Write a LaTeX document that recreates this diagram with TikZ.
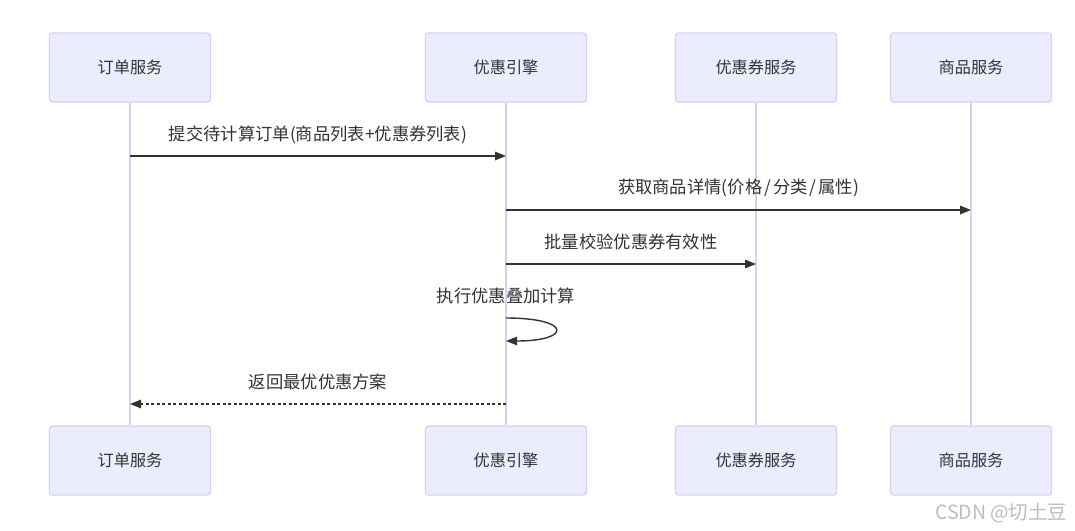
\documentclass[tikz,border=0pt]{standalone}
\usepackage{fontspec}
\setmainfont{Noto Sans CJK SC}
\usepackage{xcolor}
\usetikzlibrary{arrows.meta,positioning}

\definecolor{actorfill}{HTML}{ECECFF}
\definecolor{actorline}{HTML}{DACEF3}
\definecolor{textgray}{HTML}{333333}
\definecolor{markgray}{HTML}{BDBDBD}

\newcommand{\actorfont}{\fontsize{16.2}{19}\selectfont}
\newcommand{\msgfont}{\fontsize{17.3}{20}\selectfont}

\begin{document}
\begin{tikzpicture}[
  x=1pt, y=-1pt,
  >={Triangle[length=11pt,width=8.5pt]},
  actor/.style={draw=actorline, line width=1.2pt, fill=actorfill, rounded corners=3pt,
    minimum width=161pt, minimum height=69pt, font=\actorfont, text=textgray},
  lifeline/.style={draw=actorline, line width=1.8pt},
  msg/.style={draw=textgray, line width=1.4pt, ->},
  msglabel/.style={font=\msgfont, text=textgray},
]
\useasboundingbox[fill=white] (0,0) rectangle (1075,530);

% Participants, top and bottom
\foreach \i/\x/\lab in {1/130/订单服务, 2/506/优惠引擎, 3/756/优惠券服务, 4/971/商品服务} {
  \node[actor] (t\i) at (\x, 67.5) {\lab};
  \node[actor] (b\i) at (\x, 460.5) {\lab};
}

% Lifelines
\foreach \i in {1,...,4} {
  \draw[lifeline] (t\i) -- (b\i);
}

% Messages
\draw[msg] (t1 |- 0,156) -- (t2 |- 0,156)
  node[msglabel, midway, yshift=21pt] {提交待计算订单(商品列表+优惠券列表)};
\draw[msg] (t2 |- 0,210) -- (t4 |- 0,210)
  node[msglabel, midway, yshift=22pt] {获取商品详情(价格\kern2pt/\kern2pt分类\kern2pt/\kern2pt属性)};
\draw[msg] (t2 |- 0,264) -- (t3 |- 0,264)
  node[msglabel, midway, yshift=22pt] {批量校验优惠券有效性};

% Self call
\node[msglabel] (selfcall) at (t2 |- 0,296) {执行优惠叠加计算};
\draw[msg] (t2 |- 0,318) .. controls +(66,0) and +(66,0) .. (t2 |- 0,341);

% Reply
\draw[msg, dash pattern=on 3pt off 2.5pt] (t2 |- 0,404) -- (t1 |- 0,404)
  node[msglabel, midway, yshift=22pt] {返回最优优惠方案};

% Watermark
\node[anchor=east, font=\fontsize{19.5}{22}\selectfont, text=markgray] (mark) at (1071,513) {CSDN @切土豆};
\end{tikzpicture}
\end{document}
